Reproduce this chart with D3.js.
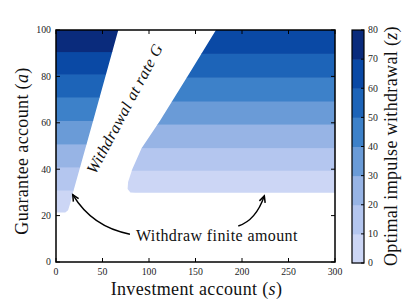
<!DOCTYPE html>
<html>
<head>
<meta charset="utf-8">
<script src="https://cdn.jsdelivr.net/npm/d3@7"></script>
<style>
  body { margin: 0; background: #fff; }
  text { font-family: "Liberation Serif", "DejaVu Serif", serif; fill: #111; }
  .tick-label { font-size: 9.8px; fill: #222; }
  .axis-label { font-size: 18px; letter-spacing: 0.35px; }
</style>
</head>
<body>
<div id="chart"></div>
<script>
// ---- data ----
const sTicks = [0, 50, 100, 150, 200, 250, 300];
const aTicks = [0, 20, 40, 60, 80, 100];
const zTicks = [0, 10, 20, 30, 40, 50, 60, 70, 80];

// filled contour levels (z) and their colours
const zLevels = [0, 10, 20, 30, 40, 50, 60, 70, 80];
const levelColors = ['#ccd6f5', '#b4c6ef', '#97b4e5', '#6a9bd7', '#3d81c9', '#1d64b8', '#0a49a5', '#0a2b7c'];

// guarantee account a where z crosses 0,10,20,... in each region
const leftBandA = [21.3, 31, 41, 50.9, 61, 71.1, 81, 90.7];
const rightBandA = [29.8, 39.5, 49.3, 59.4, 69.4, 79.6, 89.9];

// region edges (s, a)
const leftEdge = [[0, 100], [67, 100], [40, 61], [18, 29.5], [15.5, 25.5], [13, 22.3], [10, 21.3], [0, 21.3]];
const rightEdge = [[172, 100], [143, 81], [112, 61], [92, 49], [82, 40], [77.5, 34.5], [77, 31.5], [80, 30], [85, 29.8], [300, 29.8], [300, 100]];

// annotations (s, a)
const finiteText = { s: 173, a: 9, label: 'Withdraw finite amount' };
const arrowLeft = { from: [79.5, 12], ctrl: [39, 15], to: [18, 29] };
const arrowRight = { from: [196, 15.5], ctrl: [215, 18], to: [224, 28.5] };
const rateText = { s: 79, a: 65, label: 'Withdrawal at rate ' };

// ---- layout ----
const W = 420, H = 300;
const margin = { left: 56, top: 30, right: 85, bottom: 38 };
const plotR = W - margin.right;
const plotB = H - margin.bottom;

const svg = d3.select('#chart').append('svg')
  .attr('width', W).attr('height', H);

const x = d3.scaleLinear().domain([0, 300]).range([margin.left, plotR]);
const y = d3.scaleLinear().domain([0, 100]).range([plotB, margin.top]);
const color = d3.scaleOrdinal().domain(d3.range(levelColors.length)).range(levelColors);

const line = d3.line().x(d => x(d[0])).y(d => y(d[1]));

const defs = svg.append('defs');
defs.append('clipPath').attr('id', 'clip-left')
  .append('path').attr('d', line(leftEdge) + 'Z');
defs.append('clipPath').attr('id', 'clip-right')
  .append('path').attr('d', line(rightEdge) + 'Z');

// bands per region
function drawBands(bandA, clipId) {
  const bands = bandA.map((a0, i) => ({ a0, a1: i + 1 < bandA.length ? bandA[i + 1] : 100, lvl: i }));
  svg.append('g').attr('clip-path', `url(#${clipId})`)
    .selectAll('rect').data(bands).enter().append('rect')
    .attr('x', x(0)).attr('width', x(300) - x(0))
    .attr('y', d => y(d.a1)).attr('height', d => y(d.a0) - y(d.a1) + 0.5)
    .attr('fill', d => color(d.lvl));
}
drawBands(leftBandA, 'clip-left');
drawBands(rightBandA, 'clip-right');

// axes, matplotlib-style inward ticks on all sides
const tickLen = 4;
const ax = svg.append('g').attr('class', 'axes');
sTicks.forEach(s => {
  ax.append('line').attr('x1', x(s)).attr('x2', x(s)).attr('y1', plotB).attr('y2', plotB - tickLen).attr('stroke', '#000');
  ax.append('line').attr('x1', x(s)).attr('x2', x(s)).attr('y1', margin.top).attr('y2', margin.top + tickLen).attr('stroke', '#000');
  ax.append('text').attr('class', 'tick-label').attr('x', x(s)).attr('y', plotB + 13)
    .attr('text-anchor', 'middle').text(s);
});
aTicks.forEach(a => {
  ax.append('line').attr('x1', margin.left).attr('x2', margin.left + tickLen).attr('y1', y(a)).attr('y2', y(a)).attr('stroke', '#000');
  ax.append('line').attr('x1', plotR).attr('x2', plotR - tickLen).attr('y1', y(a)).attr('y2', y(a)).attr('stroke', '#000');
  ax.append('text').attr('class', 'tick-label').attr('x', margin.left - 5).attr('y', y(a) + 3.3)
    .attr('text-anchor', 'end').text(a);
});
ax.append('rect').attr('x', margin.left).attr('y', margin.top)
  .attr('width', plotR - margin.left).attr('height', plotB - margin.top)
  .attr('fill', 'none').attr('stroke', '#000').attr('stroke-width', 1.5);

// axis labels
const xl = svg.append('text').attr('class', 'axis-label')
  .attr('x', (margin.left + plotR) / 2 + 1).attr('y', plotB + 33).attr('text-anchor', 'middle');
xl.append('tspan').text('Investment account (');
xl.append('tspan').attr('font-style', 'italic').text('s');
xl.append('tspan').text(')');

const yl = svg.append('text').attr('class', 'axis-label')
  .attr('transform', `translate(28, ${(margin.top + plotB) / 2 + 5}) rotate(-90)`).attr('text-anchor', 'middle');
yl.append('tspan').text('Guarantee account (');
yl.append('tspan').attr('font-style', 'italic').text('a');
yl.append('tspan').text(')');

// colour bar
const cb = { x: 352, w: 12 };
const cy = d3.scaleLinear().domain([0, 80]).range([plotB + 1, margin.top]);
const cbg = svg.append('g');
cbg.selectAll('rect.lvl').data(d3.range(levelColors.length)).enter().append('rect')
  .attr('class', 'lvl')
  .attr('x', cb.x).attr('width', cb.w)
  .attr('y', i => cy(zLevels[i + 1])).attr('height', i => cy(zLevels[i]) - cy(zLevels[i + 1]) + 0.5)
  .attr('fill', i => color(i));
cbg.append('rect').attr('x', cb.x).attr('y', cy(80)).attr('width', cb.w).attr('height', cy(0) - cy(80))
  .attr('fill', 'none').attr('stroke', '#000').attr('stroke-width', 1.2);
zTicks.forEach(z => {
  cbg.append('line').attr('x1', cb.x + cb.w).attr('x2', cb.x + cb.w - 3).attr('y1', cy(z)).attr('y2', cy(z)).attr('stroke', '#000');
  cbg.append('text').attr('class', 'tick-label').attr('x', cb.x + cb.w + 4).attr('y', cy(z) + 3.3).text(z);
});
const cl = svg.append('text').attr('class', 'axis-label')
  .attr('transform', `translate(397, ${(margin.top + plotB) / 2}) rotate(-90)`).attr('text-anchor', 'middle');
cl.append('tspan').text('Optimal impulse withdrawal (');
cl.append('tspan').attr('font-style', 'italic').text('z');
cl.append('tspan').text(')');

// annotations
const rt = svg.append('text')
  .attr('transform', `translate(${x(rateText.s)}, ${y(rateText.a)}) rotate(-62)`)
  .attr('text-anchor', 'middle').attr('font-style', 'italic').attr('font-size', 16)
  .attr('letter-spacing', 0.4);
rt.append('tspan').text(rateText.label);
rt.append('tspan').text('G');

svg.append('text').attr('x', x(finiteText.s)).attr('y', y(finiteText.a))
  .attr('text-anchor', 'middle').attr('font-size', 16).attr('letter-spacing', 0.4)
  .text(finiteText.label);

function drawArrow(ar) {
  const p0 = [x(ar.from[0]), y(ar.from[1])];
  const c = [x(ar.ctrl[0]), y(ar.ctrl[1])];
  const p1 = [x(ar.to[0]), y(ar.to[1])];
  const path = d3.path();
  path.moveTo(p0[0], p0[1]);
  path.quadraticCurveTo(c[0], c[1], p1[0], p1[1]);
  svg.append('path').attr('d', path.toString()).attr('fill', 'none')
    .attr('stroke', '#000').attr('stroke-width', 1.5);
  const ang = Math.atan2(p1[1] - c[1], p1[0] - c[0]);
  const L = 7, spread = 0.45;
  const head = d3.path();
  head.moveTo(p1[0] - L * Math.cos(ang - spread), p1[1] - L * Math.sin(ang - spread));
  head.lineTo(p1[0], p1[1]);
  head.lineTo(p1[0] - L * Math.cos(ang + spread), p1[1] - L * Math.sin(ang + spread));
  svg.append('path').attr('d', head.toString()).attr('fill', 'none')
    .attr('stroke', '#000').attr('stroke-width', 1.5);
}
drawArrow(arrowLeft);
drawArrow(arrowRight);
</script>
</body>
</html>
